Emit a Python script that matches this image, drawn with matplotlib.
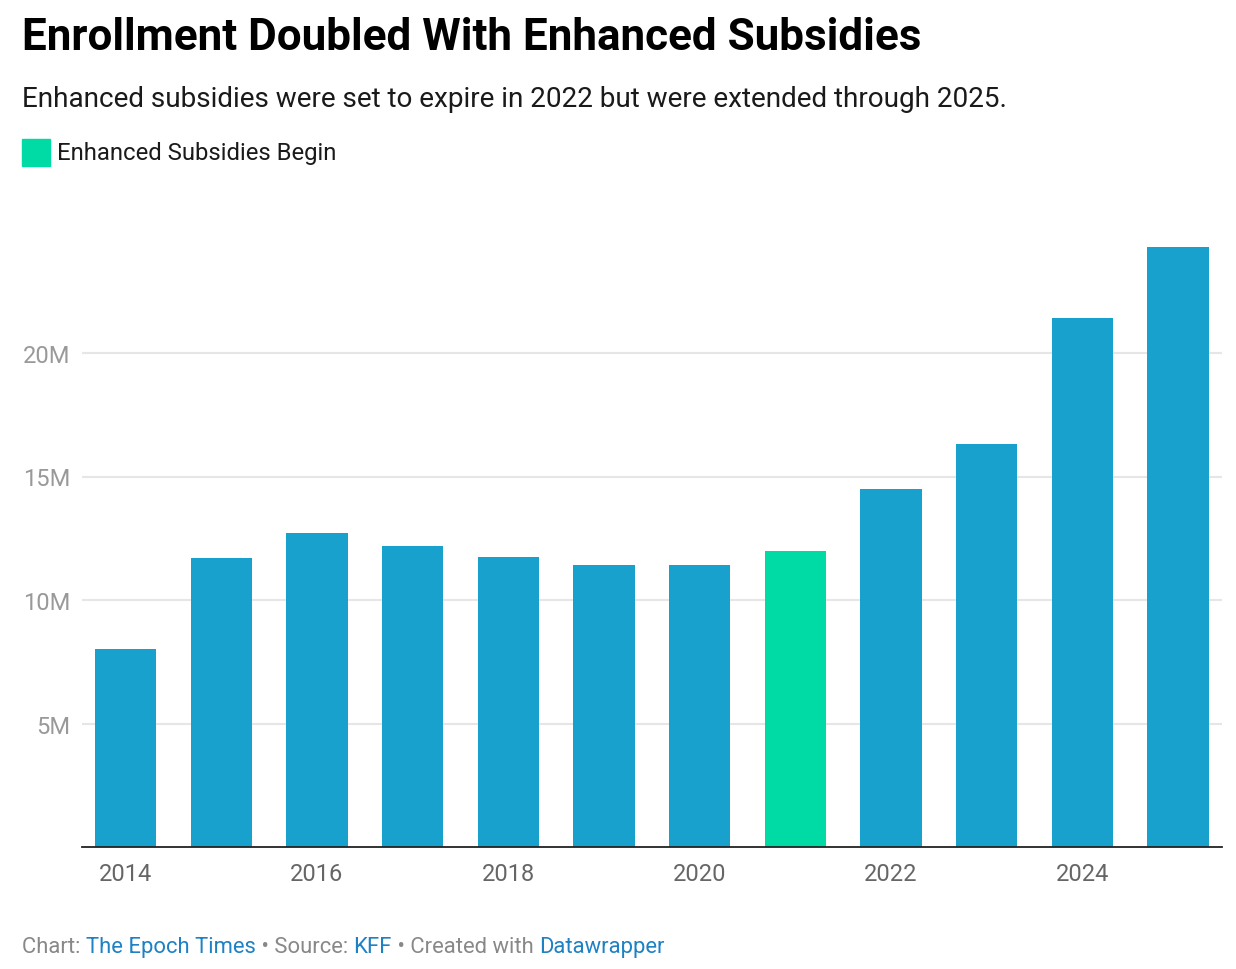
import matplotlib
matplotlib.use("Agg")
import matplotlib.pyplot as plt
from matplotlib.patches import Rectangle

# data (millions)
years = [2014, 2015, 2016, 2017, 2018, 2019, 2020, 2021, 2022, 2023, 2024, 2025]
enrollment = [8.0, 11.7, 12.7, 12.2, 11.75, 11.4, 11.4, 12.0, 14.5, 16.3, 21.4, 24.3]
highlight_year = 2021
y_ticks = [5, 10, 15, 20]
y_tick_labels = ["5M", "10M", "15M", "20M"]
x_tick_years = [2014, 2016, 2018, 2020, 2022, 2024]

title = "Enrollment Doubled With Enhanced Subsidies"
subtitle = "Enhanced subsidies were set to expire in 2022 but were extended through 2025."
legend_label = "Enhanced Subsidies Begin"
footer = [("Chart: ", "#888888"), ("The Epoch Times", "#1d81c4"),
          (" \u2022 Source: ", "#888888"), ("KFF", "#1d81c4"),
          (" \u2022 Created with ", "#888888"), ("Datawrapper", "#1d81c4")]

blue = "#18a1cd"
green = "#00dba6"

plt.rcParams["font.family"] = ["Roboto", "DejaVu Sans"]

W, H = 1236, 970
fig = plt.figure(figsize=(W / 100, H / 100), dpi=100)
fig.patch.set_facecolor("white")

ax = fig.add_axes([82 / W, 1 - 848 / H, (1222 - 82) / W, (848 - 230.5) / H])

pos = list(range(len(years)))
colors = [green if y == highlight_year else blue for y in years]
ax.bar(pos, enrollment, width=0.64, color=colors, zorder=3)

ax.set_xlim(-0.455, len(years) - 1 + 0.46)
ax.set_ylim(0, 25)

ax.set_yticks(y_ticks)
ax.set_yticklabels(y_tick_labels, fontsize=17, color="#999999")
ax.grid(axis="y", color="#e6e6e6", linewidth=1.5, zorder=0)
ax.tick_params(axis="y", length=0, pad=8.5)

ax.set_xticks([years.index(y) for y in x_tick_years])
ax.set_xticklabels([str(y) for y in x_tick_years], fontsize=17, color="#666666")
ax.tick_params(axis="x", length=0, pad=11)

for s in ["top", "right", "left"]:
    ax.spines[s].set_visible(False)
ax.spines["bottom"].set_color("#222222")
ax.spines["bottom"].set_linewidth(1.3)
ax.spines["bottom"].set_zorder(4)

# header
fig.text(22 / W, 1 - 50 / H, title, fontsize=31.7, fontweight="bold",
         color="#000000", ha="left", va="baseline")
fig.text(22 / W, 1 - 107 / H, subtitle, fontsize=20.1, color="#1a1a1a",
         ha="left", va="baseline")

# legend
fig.patches.append(Rectangle((22 / W, 1 - 167 / H), 28 / W, 27 / H,
                             transform=fig.transFigure, color=green))
fig.text(57 / W, 1 - 153.5 / H, legend_label, fontsize=17.2, color="#1a1a1a",
         ha="left", va="center")

# footer with coloured pieces
renderer = fig.canvas.get_renderer()
x = 22
for txt, col in footer:
    t = fig.text(x / W, 1 - 953 / H, txt, fontsize=15.8, color=col,
                 ha="left", va="baseline")
    x += t.get_window_extent(renderer).width

fig.savefig("out.png", dpi=100, facecolor="white")
